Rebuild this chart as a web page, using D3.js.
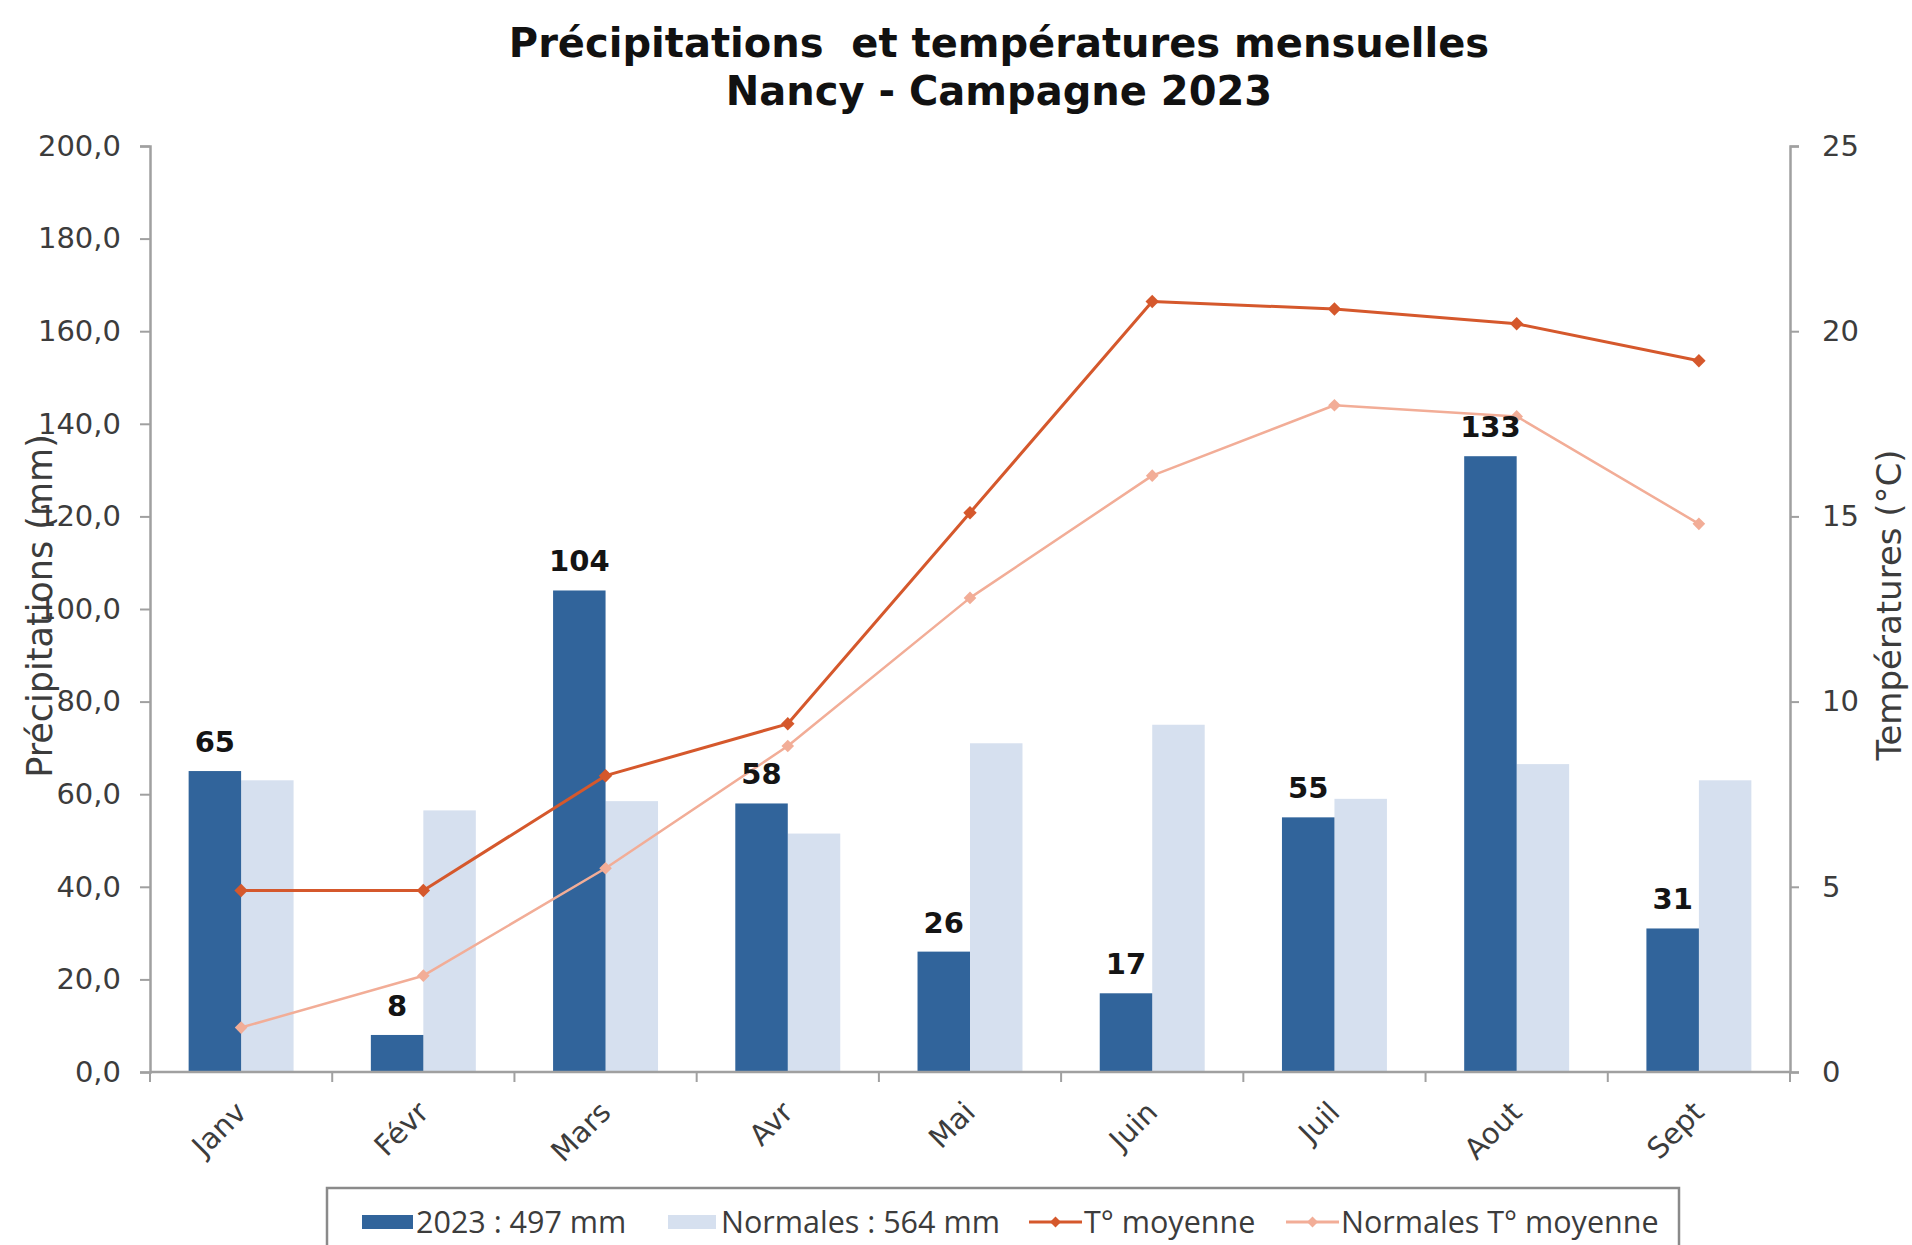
<!DOCTYPE html>
<html>
<head>
<meta charset="utf-8">
<script src="https://cdn.jsdelivr.net/npm/d3@7"></script>
<style>
  html, body { margin: 0; padding: 0; background: #ffffff; }
  svg { display: block; }
</style>
</head>
<body>
<svg id="chart" width="1912" height="1245"></svg>
<script>
// ---- Data ----
const months = ["Janv", "Févr", "Mars", "Avr", "Mai", "Juin", "Juil", "Aout", "Sept"];
const precip2023 = [65, 8, 104, 58, 26, 17, 55, 133, 31];
const precipNormales = [63, 56.5, 58.5, 51.5, 71, 75, 59, 66.5, 63];
const tempMoyenne = [4.9, 4.9, 8.0, 9.4, 15.1, 20.8, 20.6, 20.2, 19.2];
const tempNormales = [1.2, 2.6, 5.5, 8.8, 12.8, 16.1, 18.0, 17.7, 14.8];
const leftTicks = [0, 20, 40, 60, 80, 100, 120, 140, 160, 180, 200];
const rightTicks = [0, 5, 10, 15, 20, 25];
const titleLines = ["Précipitations  et températures mensuelles", "Nancy - Campagne 2023"];
const legendLabels = ["2023 : 497 mm", "Normales : 564 mm", "T° moyenne", "Normales T° moyenne"];

// ---- Styles ----
const C_DARK = "#31649b";
const C_LIGHT = "#d6e0ef";
const C_T = "#d5582c";
const C_TN = "#f2ad97";
const C_AXIS = "#a0a0a0";
const C_TEXT = "#3c3c3c";
const F_MAIN = "'DejaVu Sans', Verdana, sans-serif";
const F_LEG = "'Open Sans', 'Noto Sans', sans-serif";

const svg = d3.select("#chart");
const L = 150, R = 1790, T = 146, B = 1072;

const x = d3.scaleBand().domain(months).range([L, R]).padding(0);
const bw = x.bandwidth();
const xSub = d3.scaleBand().domain(["a", "b"]).range([bw * 0.212, bw * 0.788]).padding(0);
const yL = d3.scaleLinear().domain([0, 200]).range([B, T]);
const yR = d3.scaleLinear().domain([0, 25]).range([B, T]);

// ---- Title ----
svg.append("g").selectAll("text").data(titleLines).join("text")
  .attr("x", 999)
  .attr("y", (d, i) => 57 + i * 48)
  .attr("text-anchor", "middle")
  .style("white-space", "pre")
  .attr("font-family", F_MAIN)
  .attr("font-weight", "bold")
  .attr("font-size", 40)
  .attr("fill", "#111")
  .text(d => d);

// ---- Bars ----
const bars = svg.append("g");
bars.selectAll("rect.light").data(precipNormales).join("rect")
  .attr("class", "light")
  .attr("x", (d, i) => x(months[i]) + xSub("b"))
  .attr("width", xSub.bandwidth())
  .attr("y", d => yL(d))
  .attr("height", d => yL(0) - yL(d))
  .attr("fill", C_LIGHT);
bars.selectAll("rect.dark").data(precip2023).join("rect")
  .attr("class", "dark")
  .attr("x", (d, i) => x(months[i]) + xSub("a"))
  .attr("width", xSub.bandwidth())
  .attr("y", d => yL(d))
  .attr("height", d => yL(0) - yL(d))
  .attr("fill", C_DARK);

// ---- Axes ----
const fmt = d => d3.format(".1f")(d).replace(".", ",");
const gL = svg.append("g").attr("transform", `translate(${L},0)`)
  .call(d3.axisLeft(yL).tickValues(leftTicks).tickFormat(fmt).tickSize(10).tickPadding(19));
const gR = svg.append("g").attr("transform", `translate(${R},0)`)
  .call(d3.axisRight(yR).tickValues(rightTicks).tickSize(9).tickPadding(23));
const gB = svg.append("g").attr("transform", `translate(0,${B})`)
  .call(d3.axisBottom(x).tickValues([]).tickSize(0));
// category boundary ticks
svg.append("g").selectAll("line").data(d3.range(months.length + 1)).join("line")
  .attr("x1", i => L + i * bw).attr("x2", i => L + i * bw)
  .attr("y1", B).attr("y2", B + 10)
  .attr("stroke", C_AXIS).attr("stroke-width", 2);

[gL, gR, gB].forEach(g => {
  g.select(".domain").attr("stroke", C_AXIS).attr("stroke-width", 2.5);
  g.selectAll(".tick line").attr("stroke", C_AXIS).attr("stroke-width", 2);
  g.selectAll(".tick text").attr("font-family", F_MAIN).attr("font-size", 29).attr("fill", C_TEXT);
});
gB.select(".domain").attr("d", `M${L},0H${R}`);

// x labels rotated
svg.append("g").selectAll("text").data(months).join("text")
  .attr("transform", d => `translate(${x(d) + bw / 2 + 7},${B + 42}) rotate(-45)`)
  .attr("text-anchor", "end")
  .attr("font-family", F_MAIN)
  .attr("font-size", 29)
  .attr("fill", C_TEXT)
  .text(d => d);

// axis titles
svg.append("text")
  .attr("transform", `translate(52,606) rotate(-90)`)
  .attr("text-anchor", "middle")
  .attr("font-family", F_MAIN).attr("font-size", 35).attr("fill", C_TEXT)
  .text("Précipitations (mm)");
svg.append("text")
  .attr("transform", `translate(1901,605) rotate(-90)`)
  .attr("text-anchor", "middle")
  .attr("font-family", F_MAIN).attr("font-size", 34).attr("fill", C_TEXT)
  .text("Températures (°C)");

// ---- Lines ----
const lineGen = d3.line().x((d, i) => x(months[i]) + bw / 2).y(d => yR(d));
const diamond = d3.symbol().type(d3.symbolSquare);

function drawSeries(values, color, width, msize) {
  svg.append("path").datum(values)
    .attr("d", lineGen).attr("fill", "none")
    .attr("stroke", color).attr("stroke-width", width).attr("stroke-linejoin", "round");
  svg.append("g").selectAll("path").data(values).join("path")
    .attr("d", diamond.size(msize))
    .attr("transform", (d, i) => `translate(${x(months[i]) + bw / 2},${yR(d)}) rotate(45)`)
    .attr("fill", color);
}
drawSeries(tempNormales, C_TN, 2.5, 80);
drawSeries(tempMoyenne, C_T, 3, 90);

// ---- Data labels ----
svg.append("g").selectAll("text").data(precip2023).join("text")
  .attr("x", (d, i) => x(months[i]) + xSub("a") + xSub.bandwidth() / 2)
  .attr("y", d => yL(d) - 19)
  .attr("text-anchor", "middle")
  .attr("font-family", F_MAIN).attr("font-weight", "bold").attr("font-size", 29)
  .attr("fill", "#141414")
  .text(d => d);

// ---- Legend ----
const leg = svg.append("g");
leg.append("rect").attr("x", 327).attr("y", 1188).attr("width", 1352).attr("height", 90)
  .attr("fill", "#fff").attr("stroke", "#8a8a8a").attr("stroke-width", 2.5);
const legY = 1222;
const legItems = [
  { type: "rect", color: C_DARK, x0: 362, x1: 413, tx: 416 },
  { type: "rect", color: C_LIGHT, x0: 668, x1: 716, tx: 721 },
  { type: "line", color: C_T, x0: 1029, x1: 1082, tx: 1084 },
  { type: "line", color: C_TN, x0: 1286, x1: 1339, tx: 1341 }
];
legItems.forEach((it, i) => {
  if (it.type === "rect") {
    leg.append("rect").attr("x", it.x0).attr("y", legY - 7).attr("width", it.x1 - it.x0).attr("height", 14)
      .attr("fill", it.color);
  } else {
    leg.append("line").attr("x1", it.x0).attr("x2", it.x1).attr("y1", legY).attr("y2", legY)
      .attr("stroke", it.color).attr("stroke-width", 3);
    leg.append("path").attr("d", diamond.size(60)).attr("transform", `translate(${(it.x0 + it.x1) / 2},${legY}) rotate(45)`)
      .attr("fill", it.color);
  }
  leg.append("text").attr("x", it.tx).attr("y", legY + 11)
    .attr("font-family", F_LEG).attr("font-size", 30.5).attr("fill", C_TEXT)
    .text(legendLabels[i]);
});
</script>
</body>
</html>
